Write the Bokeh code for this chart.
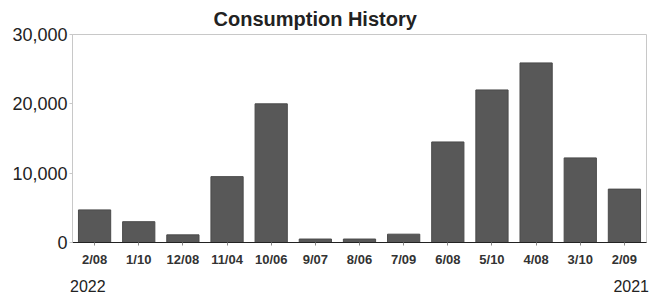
from bokeh.plotting import figure
from bokeh.models import FactorRange, Range1d, FixedTicker, NumeralTickFormatter, Div
from bokeh.layouts import column
from bokeh.embed import file_html
from bokeh.resources import INLINE

periods = ["2/08", "1/10", "12/08", "11/04", "10/06", "9/07", "8/06",
           "7/09", "6/08", "5/10", "4/08", "3/10", "2/09"]
consumption = [4700, 3000, 1100, 9500, 20000, 500, 500,
               1200, 14500, 22000, 25900, 12200, 7700]
y_ticks = [0, 10000, 20000, 30000]
title_text = "Consumption History"
years = ["2022", "2021"]

p = figure(width=663, height=272, x_range=FactorRange(factors=periods, range_padding=0),
           y_range=Range1d(0, 30000), output_backend="svg", toolbar_location=None,
           min_border_left=72, min_border_right=17, min_border_top=34, min_border_bottom=30,
           title=title_text)

p.title.align = "left"
p.title.offset = 141
p.title.text_font = "Liberation Sans"
p.title.text_font_style = "bold"
p.title.text_font_size = "20px"
p.title.text_color = "#222222"
p.title.standoff = 10

p.vbar(x=periods, top=consumption, width=0.73, fill_color="#585858",
       line_color="#4a4a4a", line_width=1)

p.outline_line_color = "#c8c8c8"
p.xgrid.grid_line_color = None
p.ygrid.grid_line_color = None

p.yaxis.ticker = FixedTicker(ticks=y_ticks)
p.yaxis.formatter = NumeralTickFormatter(format="0,0")
p.yaxis.axis_line_color = "#c8c8c8"
p.yaxis.major_tick_line_color = "#c8c8c8"
p.yaxis.major_tick_out = 3
p.yaxis.major_tick_in = 0
p.yaxis.minor_tick_line_color = None
p.yaxis.major_label_standoff = 2
p.yaxis.major_label_text_font = "Liberation Sans"
p.yaxis.major_label_text_font_size = "18px"
p.yaxis.major_label_text_color = "#222222"

p.xaxis.axis_line_color = "#222222"
p.xaxis.major_tick_line_color = "#888888"
p.xaxis.major_tick_out = 3
p.xaxis.major_tick_in = 0
p.xaxis.major_label_standoff = 6
p.xaxis.major_label_text_font = "Liberation Sans"
p.xaxis.major_label_text_font_style = "bold"
p.xaxis.major_label_text_font_size = "13px"
p.xaxis.major_label_text_color = "#333333"

year_html = (
    '<div style="position:relative;width:663px;height:24px;'
    "font-family:'Liberation Sans',sans-serif;font-size:16px;color:#222222;line-height:16px\">"
    f'<span style="position:absolute;left:70px;top:7px">{years[0]}</span>'
    f'<span style="position:absolute;right:14px;top:7px">{years[1]}</span>'
    '</div>'
)
years_row = Div(text=year_html, width=663, height=24, margin=(0, 0, 0, 0))

layout = column(p, years_row, spacing=0)

open("out.html", "w").write(file_html(layout, INLINE))
